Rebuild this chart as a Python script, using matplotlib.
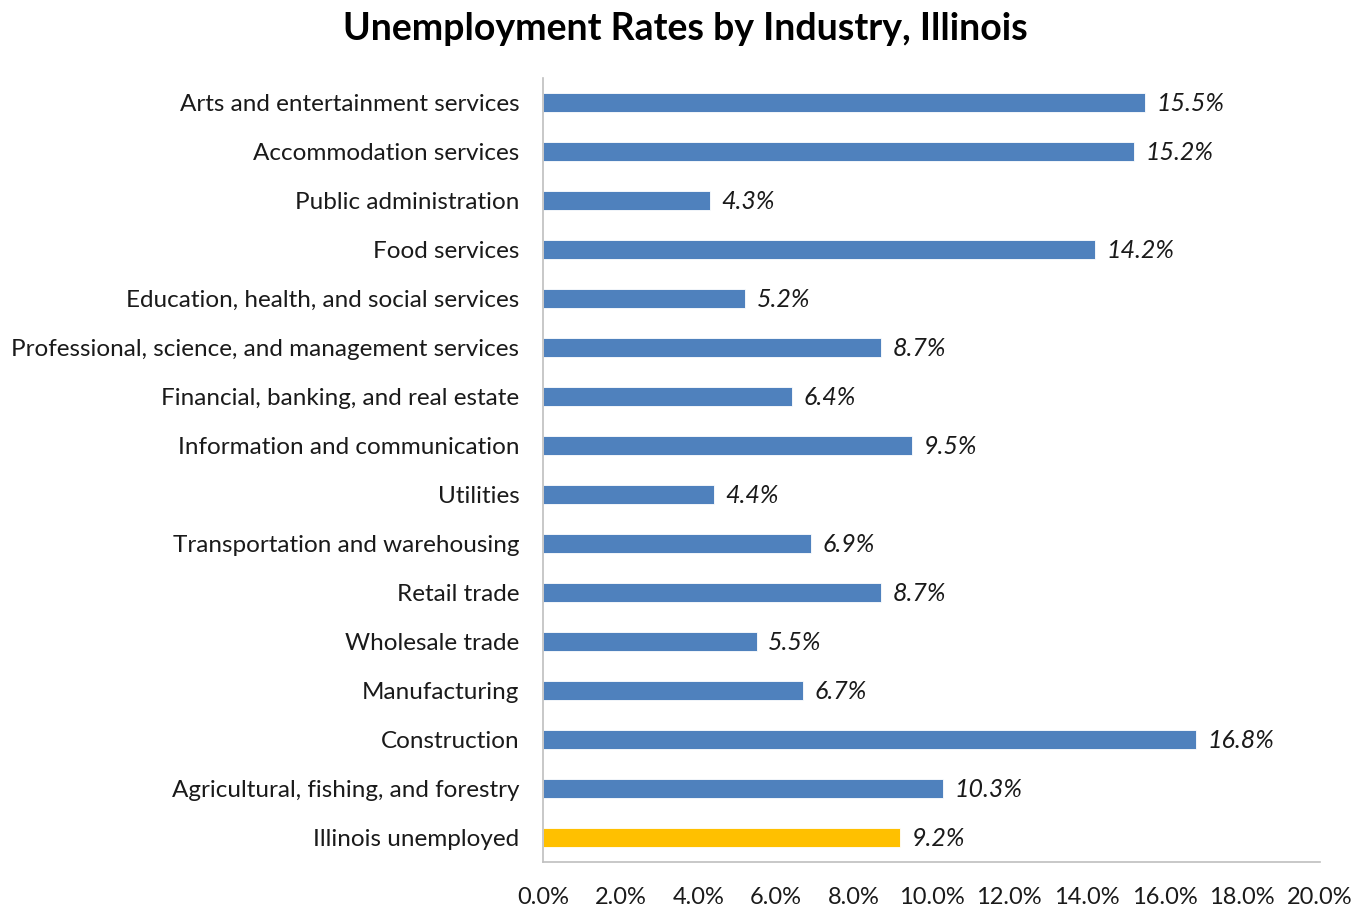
# Horizontal bar chart: unemployment rates by industry in Illinois
import numpy as np
import matplotlib.pyplot as plt

industries = [
    "Arts and entertainment services",
    "Accommodation services",
    "Public administration",
    "Food services",
    "Education, health, and social services",
    "Professional, science, and management services",
    "Financial, banking, and real estate",
    "Information and communication",
    "Utilities",
    "Transportation and warehousing",
    "Retail trade",
    "Wholesale trade",
    "Manufacturing",
    "Construction",
    "Agricultural, fishing, and forestry",
    "Illinois unemployed",
]
rates = [15.5, 15.2, 4.3, 14.2, 5.2, 8.7, 6.4, 9.5, 4.4, 6.9, 8.7, 5.5, 6.7, 16.8, 10.3, 9.2]
x_ticks = [0, 2, 4, 6, 8, 10, 12, 14, 16, 18, 20]

blue = "#4F81BD"
gold = "#FFC000"
colors = [gold if name == "Illinois unemployed" else blue for name in industries]

plt.rcParams['font.family'] = ['Lato', 'DejaVu Sans']

fig = plt.figure(figsize=(13.7, 9.09), dpi=100)
ax = fig.add_axes([0.3964, 0.0517, 0.5671, 0.8625])

y = np.arange(len(industries))
ax.barh(y, rates, height=0.4, color=colors, edgecolor="white", linewidth=0.6)
ax.set_ylim(len(industries) - 0.5, -0.5)
ax.set_xlim(0, 20)

for yi, r in zip(y, rates):
    ax.text(r + 0.3, yi + 0.03, "{:.1f}%".format(r), va="center", ha="left",
            fontsize=18, style="italic", color="#1a1a1a")

ax.set_yticks(y)
ax.set_yticklabels(industries, fontsize=17.5, color="#1a1a1a")
ax.set_xticks(x_ticks)
ax.set_xticklabels(["{:.1f}%".format(t) for t in x_ticks], fontsize=17, color="#1a1a1a")
ax.tick_params(axis="both", length=0)
ax.tick_params(axis="y", pad=17)
ax.tick_params(axis="x", pad=18)

for side in ["top", "right"]:
    ax.spines[side].set_visible(False)
for side in ["left", "bottom"]:
    ax.spines[side].set_color("#BFBFBF")
    ax.spines[side].set_linewidth(1.2)

fig.text(0.5, 0.968, "Unemployment Rates by Industry, Illinois", ha="center", va="center",
         fontsize=27, fontweight="bold", color="black")

fig.savefig("out.png", dpi=100)
